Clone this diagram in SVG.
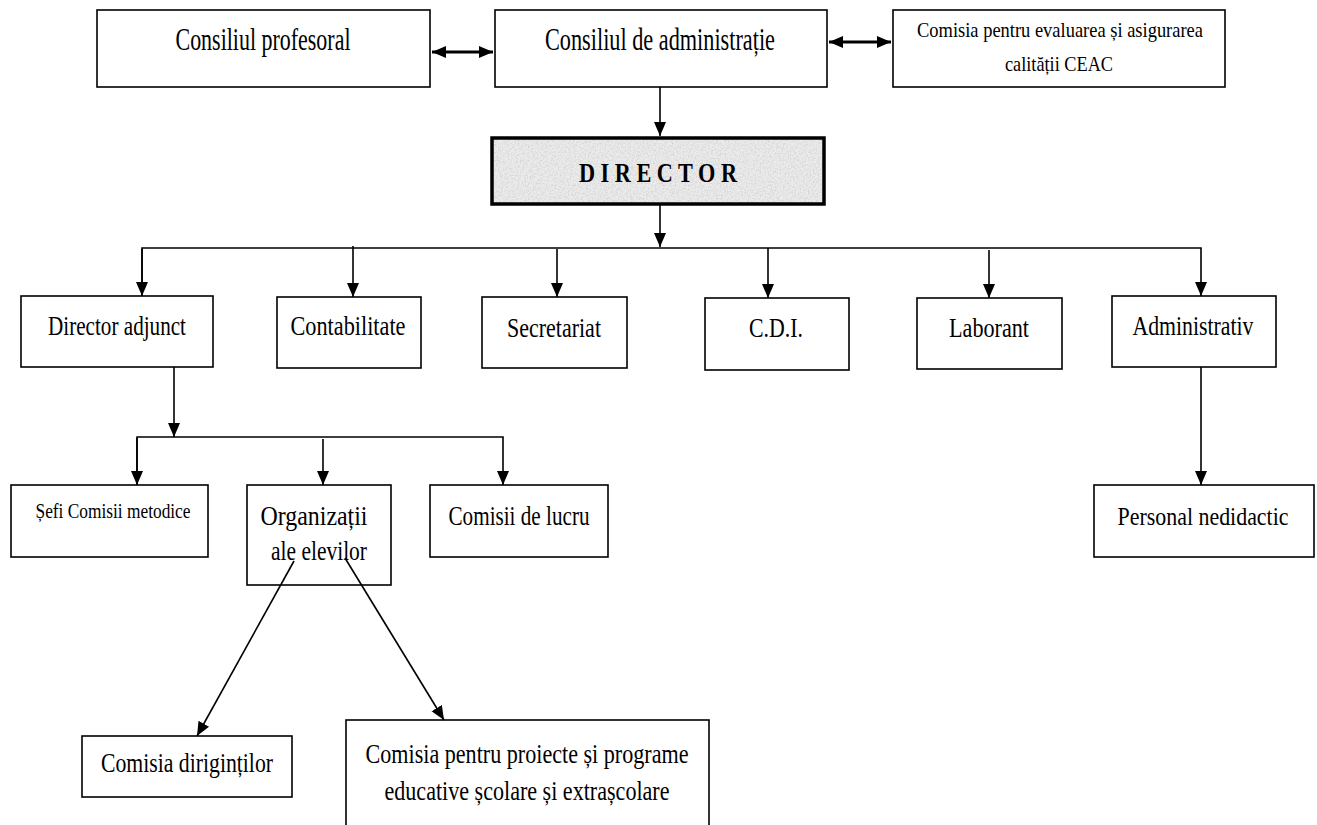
<svg xmlns="http://www.w3.org/2000/svg" width="1317" height="825" viewBox="0 0 1317 825">
<style>
.box{fill:#fff;stroke:#000;stroke-width:1.6}
.t{font-family:"Liberation Serif","Times New Roman",serif;fill:#000;text-anchor:middle}
.c{fill:none;stroke:#000;stroke-width:1.6}
.thick{fill:none;stroke:#000;stroke-width:3}
</style>
<defs>
<marker id="ah" markerUnits="userSpaceOnUse" markerWidth="14" markerHeight="14" refX="14" refY="6" orient="auto">
<path d="M0,0 L14,6 L0,12 Z" fill="#000"/>
</marker>
<marker id="ahs" markerUnits="userSpaceOnUse" markerWidth="14" markerHeight="14" refX="0" refY="6" orient="auto">
<path d="M14,0 L0,6 L14,12 Z" fill="#000"/>
</marker>
<filter id="noise" x="0" y="0" width="100%" height="100%">
<feTurbulence type="fractalNoise" baseFrequency="0.6" numOctaves="3" seed="4" result="n"/>
<feColorMatrix in="n" type="matrix" values="0 0 0 0 0.6  0 0 0 0 0.6  0 0 0 0 0.6  0 0 0 -1.6 1.0" result="g"/>
<feComposite in="g" in2="SourceGraphic" operator="in"/>
</filter>
</defs>

<g id="consiliul-profesoral">
<rect class="box" x="97" y="10" width="333" height="77"/>
<text class="t" x="263" y="50" font-size="31" textLength="175" lengthAdjust="spacingAndGlyphs">Consiliul profesoral</text>
</g>
<g id="consiliul-administratie">
<rect class="box" x="495" y="10" width="332" height="77"/>
<text class="t" x="660" y="50" font-size="31" textLength="230" lengthAdjust="spacingAndGlyphs">Consiliul de administrație</text>
</g>
<g id="ceac">
<rect class="box" x="893" y="10" width="332" height="77"/>
<text class="t" x="1060" y="37" font-size="21" textLength="286" lengthAdjust="spacingAndGlyphs">Comisia pentru evaluarea și asigurarea</text>
<text class="t" x="1059" y="71" font-size="21" textLength="108" lengthAdjust="spacingAndGlyphs">calității CEAC</text>
</g>
<g id="director">
<rect x="492" y="138" width="332" height="66" fill="#ececec"/>
<rect x="492" y="138" width="332" height="66" fill="#fff" filter="url(#noise)"/>
<rect x="492" y="138" width="332" height="66" fill="none" stroke="#000" stroke-width="3.5"/>
<text class="t" x="658" y="182" font-size="27" font-weight="bold" textLength="158" lengthAdjust="spacingAndGlyphs">D I R E C T O R</text>
</g>
<g id="director-adjunct">
<rect class="box" x="21" y="296" width="192" height="71"/>
<text class="t" x="117" y="335" font-size="27" textLength="138" lengthAdjust="spacingAndGlyphs">Director adjunct</text>
</g>
<g id="contabilitate">
<rect class="box" x="277" y="297" width="144" height="71"/>
<text class="t" x="348" y="335" font-size="27" textLength="115" lengthAdjust="spacingAndGlyphs">Contabilitate</text>
</g>
<g id="secretariat">
<rect class="box" x="482" y="297" width="145" height="71"/>
<text class="t" x="554" y="337" font-size="27" textLength="94" lengthAdjust="spacingAndGlyphs">Secretariat</text>
</g>
<g id="cdi">
<rect class="box" x="705" y="298" width="144" height="72"/>
<text class="t" x="776" y="337" font-size="27" textLength="54" lengthAdjust="spacingAndGlyphs">C.D.I.</text>
</g>
<g id="laborant">
<rect class="box" x="917" y="298" width="145" height="71"/>
<text class="t" x="989" y="337" font-size="27" textLength="80" lengthAdjust="spacingAndGlyphs">Laborant</text>
</g>
<g id="administrativ">
<rect class="box" x="1112" y="296" width="164" height="71"/>
<text class="t" x="1193" y="335" font-size="27" textLength="121" lengthAdjust="spacingAndGlyphs">Administrativ</text>
</g>
<g id="personal-nedidactic">
<rect class="box" x="1094" y="485" width="220" height="72"/>
<text class="t" x="1203" y="525" font-size="25" textLength="171" lengthAdjust="spacingAndGlyphs">Personal nedidactic</text>
</g>
<g id="sefi-comisii">
<rect class="box" x="11" y="485" width="197" height="72"/>
<text class="t" x="113" y="518" font-size="21" textLength="155" lengthAdjust="spacingAndGlyphs">Șefi Comisii metodice</text>
</g>
<g id="organizatii">
<rect class="box" x="247" y="485" width="144" height="100"/>
<text class="t" x="314" y="525" font-size="27" textLength="107" lengthAdjust="spacingAndGlyphs">Organizații</text>
<text class="t" x="319" y="560" font-size="27" textLength="96" lengthAdjust="spacingAndGlyphs">ale elevilor</text>
</g>
<g id="comisii-lucru">
<rect class="box" x="430" y="485" width="178" height="72"/>
<text class="t" x="519" y="525" font-size="27" textLength="141" lengthAdjust="spacingAndGlyphs">Comisii de lucru</text>
</g>
<g id="comisia-dirigintilor">
<rect class="box" x="82" y="736" width="210" height="61"/>
<text class="t" x="187" y="772" font-size="27" textLength="172" lengthAdjust="spacingAndGlyphs">Comisia diriginților</text>
</g>
<g id="comisia-proiecte">
<rect class="box" x="346" y="720" width="363" height="112"/>
<text class="t" x="527" y="763" font-size="27" textLength="323" lengthAdjust="spacingAndGlyphs">Comisia pentru proiecte și programe</text>
<text class="t" x="527" y="800" font-size="27" textLength="285" lengthAdjust="spacingAndGlyphs">educative școlare și extrașcolare</text>
</g>

<g id="connectors">
<line class="thick" x1="432" y1="52" x2="493" y2="52" marker-start="url(#ahs)" marker-end="url(#ah)"/>
<line class="thick" x1="829" y1="42" x2="891" y2="42" marker-start="url(#ahs)" marker-end="url(#ah)"/>
<line class="c" x1="660" y1="87" x2="660" y2="136" marker-end="url(#ah)"/>
<line class="c" x1="660" y1="205" x2="660" y2="247" marker-end="url(#ah)"/>
<polyline class="c" points="142,296 142,248 1201,248 1201,296" marker-end="url(#ah)"/>
<line class="c" x1="142" y1="249" x2="142" y2="296" marker-end="url(#ah)"/>
<line class="c" x1="353" y1="246" x2="353" y2="297" marker-end="url(#ah)"/>
<line class="c" x1="557" y1="249" x2="557" y2="297" marker-end="url(#ah)"/>
<line class="c" x1="768" y1="248" x2="768" y2="298" marker-end="url(#ah)"/>
<line class="c" x1="989" y1="250" x2="989" y2="298" marker-end="url(#ah)"/>
<line class="c" x1="174" y1="367" x2="174" y2="437" marker-end="url(#ah)"/>
<polyline class="c" points="137,485 137,437 503,437 503,485" marker-end="url(#ah)"/>
<line class="c" x1="137" y1="438" x2="137" y2="485" marker-end="url(#ah)"/>
<line class="c" x1="323" y1="439" x2="323" y2="485" marker-end="url(#ah)"/>
<line class="c" x1="1201" y1="367" x2="1201" y2="485" marker-end="url(#ah)"/>
<line class="c" x1="294" y1="561" x2="197" y2="736" marker-end="url(#ah)"/>
<line class="c" x1="345" y1="558" x2="444" y2="720" marker-end="url(#ah)"/>
</g>
</svg>
